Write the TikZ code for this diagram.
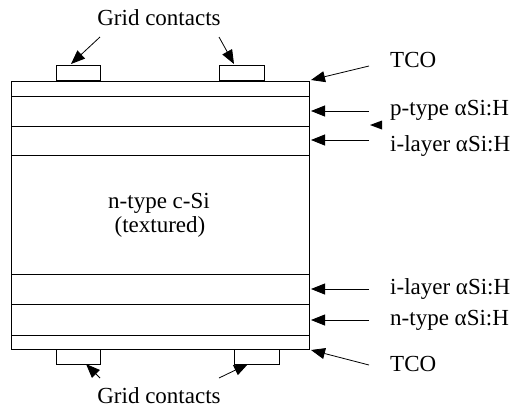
\documentclass[tikz,border=0pt]{standalone}
\usepackage{fontspec}
\setmainfont{Liberation Serif}
\usetikzlibrary{arrows.meta}
\begin{document}
\begin{tikzpicture}[x=1pt,y=-1pt,
  layer/.style={draw,line width=0.8pt},
  lbl/.style={anchor=west,inner sep=0pt,font=\fontsize{23}{25}\selectfont},
  ctr/.style={inner sep=0pt,font=\fontsize{23}{25}\selectfont},
  arr/.style={line width=0.8pt,-{Triangle[length=14pt,width=11pt]}}]
\useasboundingbox (0,0) rectangle (519,410);
% layers
\draw[layer] (11,81) rectangle (309,349);
\foreach \yy in {96,126,155,274,304,335}{\draw[layer] (11,\yy) -- (309,\yy);}
% contacts
\node[layer,minimum width=44pt,minimum height=15pt,inner sep=0pt,anchor=south west] (c1) at (56,81) {};
\node[layer,minimum width=45pt,minimum height=15pt,inner sep=0pt,anchor=south west] (c2) at (219,81) {};
\node[layer,minimum width=44pt,minimum height=15pt,inner sep=0pt,anchor=north west] (c3) at (56,349) {};
\node[layer,minimum width=45pt,minimum height=15pt,inner sep=0pt,anchor=north west] (c4) at (234,349) {};
% center text
\node[ctr] (core) at (159,203) {n-type c-Si};
\node[ctr] (tex) at (160,227) {(textured)};
% labels
\node[ctr] (gtop) at (159,18) {Grid contacts};
\node[ctr] (gbot) at (159,396) {Grid contacts};
\node[lbl] (tco1) at (390,60) {TCO};
\node[lbl] (ptype) at (390,110) {p-type αSi:H};
\node[lbl] (ilay1) at (390,146) {i-layer αSi:H};
\node[lbl] (ilay2) at (390,289) {i-layer αSi:H};
\node[lbl] (ntype) at (390,320) {n-type αSi:H};
\node[lbl] (tco2) at (390,364) {TCO};
% arrow ends
\coordinate (a1s) at (100,37); \coordinate (a1e) at (71,64);
\coordinate (a2s) at (219,37); \coordinate (a2e) at (234,64);
\coordinate (t1s) at (369,66); \coordinate (t1e) at (311,80);
\coordinate (ps) at (369,111); \coordinate (pe) at (311,111);
\coordinate (is) at (369,140); \coordinate (ie) at (311,140);
\coordinate (i2s) at (369,289); \coordinate (i2e) at (311,289);
\coordinate (ns) at (369,320); \coordinate (ne) at (311,320);
\coordinate (t2s) at (369,365); \coordinate (t2e) at (311,350);
\coordinate (b1s) at (100,378); \coordinate (b1e) at (86,364);
\coordinate (b2s) at (219,378); \coordinate (b2e) at (248,364);
\draw[arr] (a1s) -- (a1e);
\draw[arr] (a2s) -- (a2e);
\draw[arr] (t1s) -- (t1e);
\draw[arr] (ps) -- (pe);
\draw[arr] (is) -- (ie);
\draw[arr] (i2s) -- (i2e);
\draw[arr] (ns) -- (ne);
\draw[arr] (t2s) -- (t2e);
\draw[arr] (b1s) -- (b1e);
\draw[arr] (b2s) -- (b2e);
% stray arrowhead
\fill (370,125) -- (382,120.5) -- (382,129.5) -- cycle;
\end{tikzpicture}
\end{document}
